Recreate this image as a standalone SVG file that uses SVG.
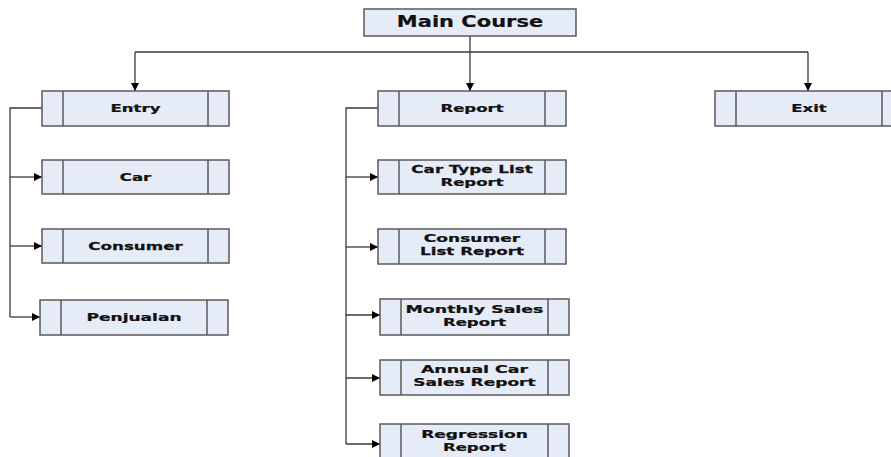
<svg xmlns="http://www.w3.org/2000/svg" width="891" height="457" viewBox="0 0 891 457">
<style>
.box{fill:#e6ecf7;stroke:#5a5a5a;stroke-width:1.5}
.bar{stroke:#5a5a5a;stroke-width:1.5}
.lbl{font-family:"DejaVu Sans",Verdana,sans-serif;font-weight:bold;font-size:11px;fill:#111;stroke:#111;stroke-width:0.25;text-anchor:middle}
.conn{fill:none;stroke:#3a3a3a;stroke-width:1.3}
</style>
<defs>
<marker id="arr" viewBox="0 0 10 10" refX="10" refY="5" markerWidth="11" markerHeight="8" markerUnits="userSpaceOnUse" orient="auto">
<path d="M0,0 L10,5 L0,10 z" fill="#000"/>
</marker>
</defs>
<rect width="891" height="457" fill="#fff"/>
<g id="connectors">
<path class="conn" d="M470,36 V52 M135,52 H808"/>
<path class="conn" d="M135,52 V91" marker-end="url(#arr)"/>
<path class="conn" d="M470,52 V91" marker-end="url(#arr)"/>
<path class="conn" d="M808,52 V91" marker-end="url(#arr)"/>
<path class="conn" d="M42,108 H10 V317"/>
<path class="conn" d="M10,177 H42" marker-end="url(#arr)"/>
<path class="conn" d="M10,246 H42" marker-end="url(#arr)"/>
<path class="conn" d="M10,317 H40" marker-end="url(#arr)"/>
<path class="conn" d="M378,108 H346 V444"/>
<path class="conn" d="M346,177 H378" marker-end="url(#arr)"/>
<path class="conn" d="M346,247 H378" marker-end="url(#arr)"/>
<path class="conn" d="M346,315 H380" marker-end="url(#arr)"/>
<path class="conn" d="M346,378 H380" marker-end="url(#arr)"/>
<path class="conn" d="M346,444 H380" marker-end="url(#arr)"/>
</g>
<g id="main-course">
<rect class="box" x="364" y="9" width="212" height="27"/>
<text class="lbl" transform="translate(470 27) scale(1.4 1)" x="0" y="0" style="font-size:15px;stroke-width:0.2">Main Course</text>
</g>
<g id="entry">
<rect class="box" x="42" y="91" width="187" height="35"/>
<path class="bar" d="M63,91 V126 M208,91 V126"/>
<text class="lbl" transform="translate(135.5 112) scale(1.5 1)" x="0" y="0">Entry</text>
</g>
<g id="car">
<rect class="box" x="42" y="160" width="187" height="34"/>
<path class="bar" d="M63,160 V194 M208,160 V194"/>
<text class="lbl" transform="translate(135.5 181) scale(1.5 1)" x="0" y="0">Car</text>
</g>
<g id="consumer">
<rect class="box" x="42" y="229" width="187" height="34"/>
<path class="bar" d="M63,229 V263 M208,229 V263"/>
<text class="lbl" transform="translate(135.5 250) scale(1.52 1)" x="0" y="0">Consumer</text>
</g>
<g id="penjualan">
<rect class="box" x="40" y="300" width="188" height="35"/>
<path class="bar" d="M61,300 V335 M207,300 V335"/>
<text class="lbl" transform="translate(134 321) scale(1.55 1)" x="0" y="0">Penjualan</text>
</g>
<g id="report">
<rect class="box" x="378" y="91" width="188" height="35"/>
<path class="bar" d="M399,91 V126 M545,91 V126"/>
<text class="lbl" transform="translate(472 112) scale(1.5 1)" x="0" y="0">Report</text>
</g>
<g id="exit">
<rect class="box" x="715" y="91" width="188" height="35"/>
<path class="bar" d="M736,91 V126 M882,91 V126"/>
<text class="lbl" transform="translate(809 112) scale(1.5 1)" x="0" y="0">Exit</text>
</g>
<g id="car-type-list-report">
<rect class="box" x="378" y="160" width="188" height="34"/>
<path class="bar" d="M399,160 V194 M545,160 V194"/>
<text class="lbl" transform="translate(472 173) scale(1.52 1)" x="0" y="0">Car Type List</text>
<text class="lbl" transform="translate(472 186) scale(1.5 1)" x="0" y="0">Report</text>
</g>
<g id="consumer-list-report">
<rect class="box" x="378" y="229" width="188" height="35"/>
<path class="bar" d="M399,229 V264 M545,229 V264"/>
<text class="lbl" transform="translate(472 242) scale(1.55 1)" x="0" y="0">Consumer</text>
<text class="lbl" transform="translate(472 255) scale(1.52 1)" x="0" y="0">List Report</text>
</g>
<g id="monthly-sales-report">
<rect class="box" x="380" y="299" width="189" height="36"/>
<path class="bar" d="M401,299 V335 M548,299 V335"/>
<text class="lbl" transform="translate(474.5 313) scale(1.58 1)" x="0" y="0">Monthly Sales</text>
<text class="lbl" transform="translate(474.5 326) scale(1.5 1)" x="0" y="0">Report</text>
</g>
<g id="annual-car-sales-report">
<rect class="box" x="380" y="360" width="189" height="35"/>
<path class="bar" d="M401,360 V395 M548,360 V395"/>
<text class="lbl" transform="translate(474.5 373) scale(1.58 1)" x="0" y="0">Annual Car</text>
<text class="lbl" transform="translate(474.5 386) scale(1.55 1)" x="0" y="0">Sales Report</text>
</g>
<g id="regression-report">
<rect class="box" x="380" y="424" width="189" height="40"/>
<path class="bar" d="M401,424 V464 M548,424 V464"/>
<text class="lbl" transform="translate(474.5 438) scale(1.55 1)" x="0" y="0">Regression</text>
<text class="lbl" transform="translate(474.5 451) scale(1.5 1)" x="0" y="0">Report</text>
</g>
</svg>
